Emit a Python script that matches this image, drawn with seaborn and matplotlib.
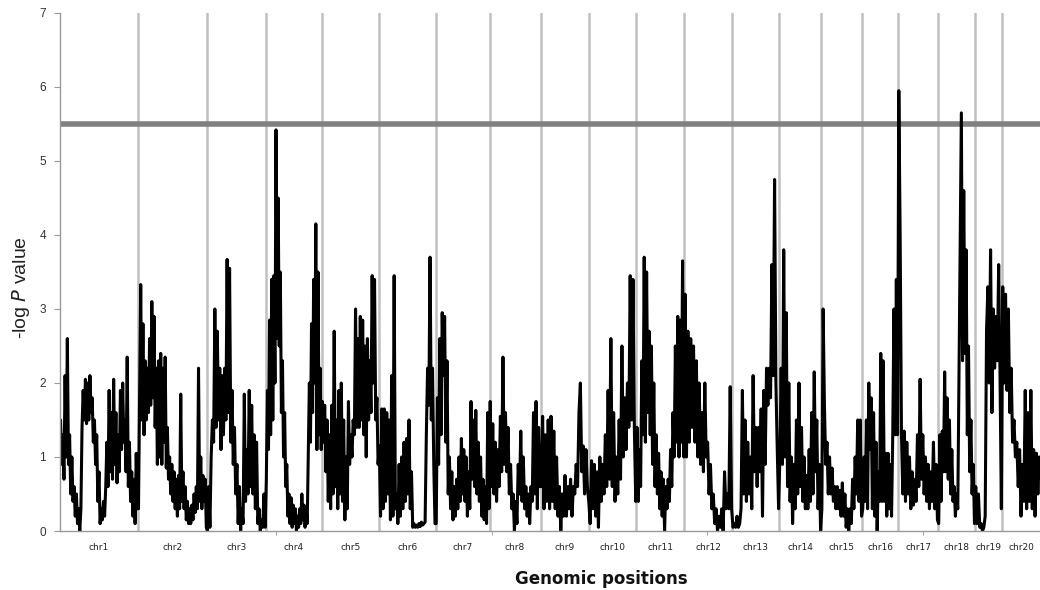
import numpy as np
import pandas as pd
import seaborn as sns
import matplotlib.pyplot as plt

# -log10 P values read along each chromosome (left to right)
chr1 = [1.5, 0.9, 1.3, 0.7, 2.1, 1.0, 2.6, 0.9, 1.3, 0.5, 1.0, 0.4, 0.6, 0.2, 0.5, 0.1,
        0.3, 0.0, 0.3, 1.4, 1.9, 1.5, 2.05, 1.45, 2.0, 1.5, 2.1, 1.6, 1.8, 1.2, 1.5, 0.9,
        1.3, 0.4, 0.8, 0.1, 0.3, 0.15, 0.4, 0.2, 0.6, 1.2, 0.6, 1.9, 0.8, 1.6, 0.7, 2.05,
        0.9, 1.6, 0.65, 1.3, 0.8, 1.9, 1.1, 2.0, 1.2, 1.5, 0.8, 2.35, 0.6, 1.2, 0.4, 0.8,
        0.2, 0.7, 0.1, 1.05, 0.3]
chr2 = [0.3, 1.8, 3.33, 1.5, 2.8, 1.3, 2.3, 1.5, 2.2, 1.6, 2.6, 1.7, 3.1, 1.8, 2.9, 1.4,
        2.2, 0.9, 2.3, 1.0, 2.4, 0.9, 2.2, 1.2, 2.35, 0.85, 1.4, 0.7, 1.0, 0.5, 0.9, 0.4,
        0.8, 0.3, 0.7, 0.2, 0.75, 0.3, 1.85, 0.4, 0.8, 0.3, 0.6, 0.15, 0.4, 0.1, 0.3, 0.1,
        0.35, 0.15, 0.5, 0.25, 0.6, 0.3, 2.2, 0.4, 1.0, 0.3, 0.75, 0.4, 0.7, 0.05]
chr3 = [0.0, 0.6, 0.05, 1.0, 1.5, 1.2, 3.0, 1.4, 2.7, 1.5, 2.2, 1.1, 2.1, 1.3, 2.2, 1.5,
        3.67, 1.6, 3.55, 1.2, 1.9, 0.9, 1.4, 0.5, 0.9, 0.1, 0.6, 0.0, 0.3, 0.1, 1.85, 0.4,
        1.1, 0.5, 1.9, 0.6, 1.7, 0.5, 1.3, 0.3, 1.2, 0.1, 0.3, 0.0, 0.15, 0.05, 0.5, 0.05]
chr4 = [0.7, 1.9, 1.1, 2.85, 1.3, 3.4, 1.5, 3.45, 2.0, 5.42, 2.6, 4.5, 2.5, 3.5, 1.6, 2.3,
        1.0, 1.6, 0.6, 0.9, 0.2, 0.5, 0.1, 0.45, 0.05, 0.35, 0.1, 0.3, 0.0, 0.2, 0.05, 0.3,
        0.1, 0.5, 0.15, 0.35, 0.05, 0.3, 0.1, 1.1, 2.0, 1.2, 2.8, 1.6, 3.4, 2.0, 4.15, 1.1,
        3.5, 1.3, 2.2, 1.1]
chr5 = [1.75, 1.2, 1.7, 0.8, 1.5, 0.4, 1.3, 0.3, 1.7, 0.5, 2.7, 0.6, 1.5, 0.3, 1.9, 0.5,
        2.0, 0.4, 1.5, 0.15, 1.0, 0.3, 1.75, 0.9, 1.3, 1.0, 1.5, 1.3, 3.0, 1.4, 2.6, 1.4,
        2.9, 1.5, 2.85, 1.3, 2.5, 1.0, 2.6, 1.5, 2.3, 1.6, 3.45, 2.0, 3.4, 1.5, 1.8, 0.9]
chr6 = [1.15, 0.2, 1.65, 0.3, 1.65, 0.4, 1.6, 0.5, 1.5, 0.15, 2.1, 0.2, 3.45, 0.3, 0.5, 0.1,
        0.9, 0.2, 1.0, 0.3, 1.2, 0.4, 1.25, 0.5, 1.5, 0.3, 0.8, 0.05, 0.1, 0.05, 0.08, 0.05,
        0.1, 0.06, 0.12, 0.08, 0.1, 0.12, 1.3, 2.2, 1.7, 3.7, 1.5, 2.2, 0.9, 0.1]
chr7 = [0.1, 1.8, 0.9, 2.6, 1.3, 2.95, 2.1, 2.9, 1.2, 2.3, 0.5, 1.0, 0.3, 0.8, 0.15, 0.6,
        0.2, 0.7, 0.3, 1.0, 0.4, 1.25, 0.5, 1.1, 0.4, 1.0, 0.2, 0.8, 0.3, 1.75, 0.7, 1.5,
        0.6, 1.63, 0.5, 1.2, 0.4, 1.0, 0.2, 0.7, 0.15, 0.6, 0.1, 1.6, 0.3]
chr8 = [1.75, 0.6, 1.45, 0.5, 1.2, 0.4, 1.1, 0.6, 1.55, 0.8, 2.35, 0.9, 1.6, 0.8, 1.4, 0.5,
        0.9, 0.3, 0.5, 0.0, 0.4, 0.1, 0.9, 0.5, 1.35, 0.4, 1.0, 0.3, 0.6, 0.2, 0.5, 0.1,
        0.6, 0.4, 1.6, 0.5, 1.75, 0.3, 1.4, 0.6]
chr9 = [0.6, 1.55, 0.3, 1.3, 0.4, 1.5, 0.3, 1.55, 0.4, 1.35, 0.3, 1.0, 0.2, 0.6, 0.0, 0.5,
        0.2, 0.75, 0.2, 0.6, 0.3, 0.7, 0.2, 0.6, 0.5, 0.9, 0.6, 1.6, 2.0, 0.8, 1.15, 0.5,
        1.1, 0.6, 0.4]
chr10 = [0.1, 0.95, 0.3, 0.9, 0.2, 0.8, 0.05, 1.0, 0.4, 0.9, 0.5, 1.3, 0.6, 1.9, 0.7, 2.6,
         0.6, 1.6, 0.4, 1.0, 0.5, 1.5, 0.7, 2.5, 1.0, 1.8, 1.1, 2.0, 1.4, 3.45, 1.5, 3.4,
         1.4, 0.4]
chr11 = [1.4, 0.4, 1.1, 0.6, 2.3, 1.3, 3.7, 1.2, 3.5, 1.6, 2.7, 1.3, 2.5, 0.9, 2.0, 0.6,
         1.3, 0.5, 1.05, 0.3, 0.8, 0.2, 0.7, 0.0, 0.6, 0.3, 0.7, 0.4, 1.1, 0.6, 1.6, 1.0,
         2.5, 1.2, 2.9, 1.0, 2.85, 1.2, 3.65, 1.0]
chr12 = [3.2, 1.0, 2.7, 1.2, 2.6, 1.4, 2.5, 1.2, 2.3, 1.0, 2.0, 0.9, 1.6, 0.8, 2.0, 1.0,
         1.2, 0.5, 0.9, 0.3, 0.5, 0.1, 0.3, 0.0, 0.2, 0.05, 0.3, 0.0, 0.8, 0.3, 0.5, 0.3,
         1.95, 0.3]
chr13 = [0.05, 0.1, 0.05, 0.2, 0.05, 0.1, 0.3, 1.9, 0.5, 1.5, 0.4, 1.2, 0.5, 1.0, 0.3, 2.1,
         0.8, 1.4, 0.6, 1.4, 0.8, 1.65, 0.2, 1.9, 0.9, 2.2, 1.7, 2.2, 1.8, 3.6, 2.1, 4.75,
         2.0, 1.1, 0.3]
chr14 = [1.0, 2.2, 0.9, 3.8, 1.0, 2.95, 0.6, 2.0, 0.4, 1.0, 0.1, 0.9, 0.3, 1.5, 0.5, 2.0,
         0.6, 1.4, 0.4, 1.0, 0.3, 0.75, 0.3, 1.1, 0.4, 1.6, 0.5, 2.15, 0.8, 1.5, 0.3, 0.9,
         0.0]
chr15 = [0.3, 3.0, 1.7, 0.9, 1.2, 0.5, 1.0, 0.5, 0.85, 0.4, 0.6, 0.3, 0.6, 0.3, 0.55, 0.2,
         0.65, 0.2, 0.5, 0.05, 0.3, 0.0, 0.3, 0.1, 0.7, 0.3, 1.0, 0.5, 1.5, 0.4, 1.5, 0.2]
chr16 = [0.3, 1.0, 0.4, 1.5, 0.3, 2.0, 1.1, 1.8, 0.3, 1.6, 0.2, 1.2, 0.0, 0.8, 0.4, 2.4,
         0.4, 2.3, 0.4, 1.05, 0.2, 1.05, 0.3, 0.9, 0.2, 1.3, 3.0, 1.3, 3.4, 1.3]
chr17 = [5.95, 4.0, 1.3, 0.5, 1.35, 0.4, 1.2, 0.5, 1.0, 0.3, 0.8, 0.35, 0.7, 0.4, 1.3, 0.6,
         2.05, 0.7, 1.3, 0.5, 1.0, 0.4, 0.9, 0.3, 0.8, 0.4, 1.2, 0.3, 0.9, 0.15]
chr18 = [0.1, 1.3, 0.4, 1.35, 0.8, 2.15, 0.8, 1.8, 0.7, 1.5, 0.5, 1.1, 0.4, 0.6, 0.2, 0.5,
         0.3, 2.1, 3.8, 5.65, 2.3, 4.6, 2.4, 3.8, 1.3, 2.5, 0.8, 1.5, 0.5, 0.9, 0.1]
chr19 = [0.6, 0.1, 0.5, 0.05, 0.1, 0.0, 0.05, 0.2, 2.7, 3.3, 2.0, 3.8, 1.6, 3.0, 2.2, 2.9,
         2.3, 3.6, 2.1, 0.3]
chr20 = [3.3, 2.0, 3.2, 1.9, 3.0, 1.6, 2.2, 1.2, 1.5, 1.0, 1.2, 0.6, 1.1, 0.2, 0.9, 0.4,
         1.9, 0.3, 1.6, 0.4, 1.9, 0.3, 1.1, 0.2, 1.05, 0.5, 1.0]

chrom_names = ["chr%d" % i for i in range(1, 21)]
chrom_vals = [chr1, chr2, chr3, chr4, chr5, chr6, chr7, chr8, chr9, chr10,
              chr11, chr12, chr13, chr14, chr15, chr16, chr17, chr18, chr19, chr20]
# relative length of each chromosome on the axis
chrom_len = [78, 69, 59, 56, 57, 57, 54, 51, 49, 47, 48, 48, 47, 42, 41, 36, 40, 37, 27, 38]
threshold = 5.5

# spread the markers evenly over each chromosome
starts = np.concatenate([[0], np.cumsum(chrom_len)[:-1]])
rows = []
for name, vals, s, L in zip(chrom_names, chrom_vals, starts, chrom_len):
    n = len(vals)
    pos = s + (np.arange(n) + 0.5) * L / n
    for p, v in zip(pos, vals):
        rows.append((name, p, v))
df = pd.DataFrame(rows, columns=["chrom", "pos", "logp"])

sns.set_style("white")
plt.rcParams["font.family"] = ["Liberation Sans", "DejaVu Sans"]

fig = plt.figure(figsize=(10.4, 5.9), dpi=100)
ax = fig.add_axes([0.0577, 0.1, 0.9423, 0.878])

# chromosome separators and significance threshold
for b in np.cumsum(chrom_len)[:-1]:
    ax.axvline(b, color="#c0c0c0", lw=1.8, zorder=1)
ax.axhline(threshold, color="#808080", lw=4, zorder=1.5)

sns.lineplot(data=df, x="pos", y="logp", color="black", lw=2.2,
             sort=False, estimator=None, ax=ax, zorder=2)

ax.set_xlim(0, sum(chrom_len))
ax.set_ylim(0, 7)
ax.set_yticks(range(0, 8))
ax.tick_params(axis="y", direction="out", length=4, color="#999999",
               labelsize=8.5, labelcolor="#333333", pad=6, left=True)

centers = starts + np.array(chrom_len) / 2
ax.set_xticks(centers)
ax.set_xticklabels(chrom_names, fontsize=6.5, family="DejaVu Sans", color="#222222")
ax.tick_params(axis="x", length=0, pad=9)
ax.set_xticks([216, 432, 648, 864], minor=True)
ax.tick_params(axis="x", which="minor", direction="out", length=3, color="#999999",
               bottom=True)

for side in ["top", "right"]:
    ax.spines[side].set_visible(False)
for side in ["left", "bottom"]:
    ax.spines[side].set_color("#999999")
    ax.spines[side].set_linewidth(1.0)

ax.set_ylabel(r"-log $\mathit{P}$ value", fontsize=14, color="#222222")
ax.yaxis.set_label_coords(-0.029, 0.47)
ax.set_xlabel("Genomic positions", fontsize=12, family="DejaVu Sans",
              fontweight="bold", color="#111111")
ax.xaxis.set_label_coords(0.552, -0.075)

fig.savefig("out.png", dpi=100)
